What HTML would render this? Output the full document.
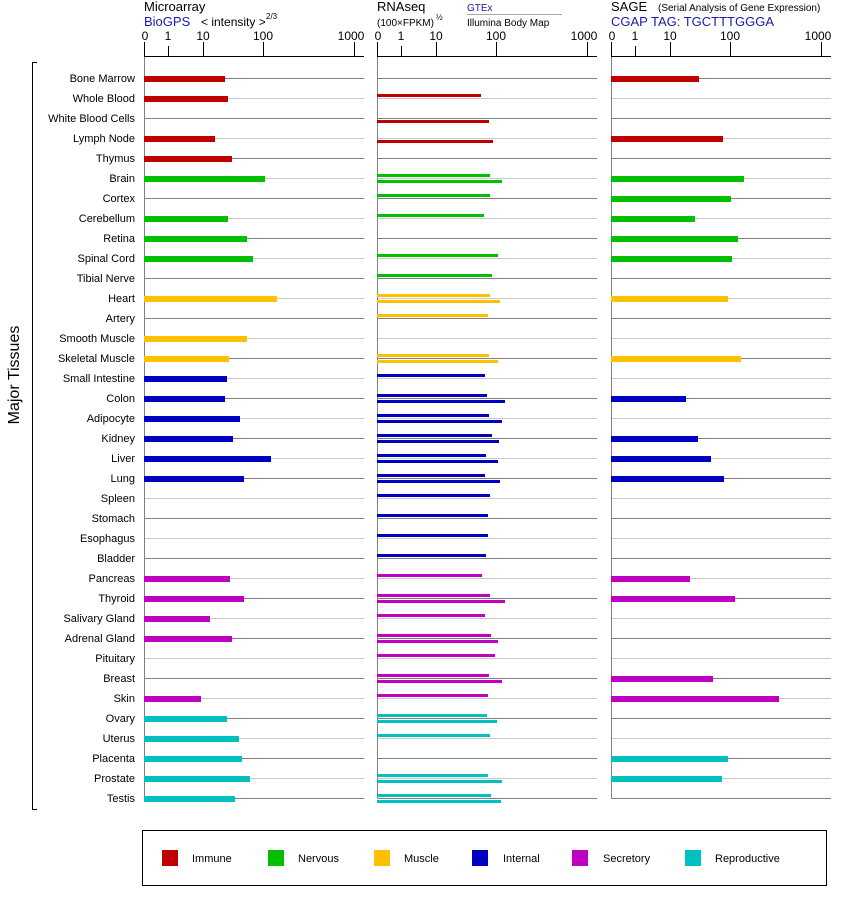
<!DOCTYPE html>
<html><head><meta charset="utf-8"><style>
body{margin:0;background:#fff;}
svg{display:block;font-family:"Liberation Sans",sans-serif;}
</style></head><body>
<svg id="s" width="842" height="900" xmlns="http://www.w3.org/2000/svg">
<g font-size="13" fill="#000">
<text x="144" y="11">Microarray</text>
<text x="144" y="26" fill="#1a1aaa">BioGPS</text>
<text x="201" y="26" font-size="12">&lt; intensity &gt;</text>
<text x="266" y="19" font-size="8">2/3</text>
<text x="377" y="11">RNAseq</text>
<text x="377" y="26" font-size="10">(100×FPKM)</text>
<text x="436" y="20" font-size="8">½</text>
<text x="467" y="11" font-size="10" fill="#1a1aaa">GTEx</text>
<text x="467" y="26" font-size="10">Illumina Body Map</text>
<text x="611" y="11">SAGE</text>
<text x="658" y="11" font-size="10">(Serial Analysis of Gene Expression)</text>
<text x="611" y="26" fill="#1a1aaa">CGAP TAG: TGCTTTGGGA</text>
</g>
<g font-size="12" text-anchor="middle" fill="#000">
<text x="145" y="40">0</text><text x="168" y="40">1</text><text x="203" y="40">10</text><text x="263" y="40">100</text><text x="351" y="40">1000</text>
<text x="378" y="40">0</text><text x="401" y="40">1</text><text x="436" y="40">10</text><text x="496" y="40">100</text><text x="584" y="40">1000</text>
<text x="612" y="40">0</text><text x="635" y="40">1</text><text x="670" y="40">10</text><text x="730" y="40">100</text><text x="818" y="40">1000</text>
</g>
<line x1="467" y1="14.5" x2="562" y2="14.5" stroke="#aaa"/>
<g font-size="11" text-anchor="end" fill="#000">
<text x="135" y="82">Bone Marrow</text><text x="135" y="102">Whole Blood</text><text x="135" y="122">White Blood Cells</text><text x="135" y="142">Lymph Node</text><text x="135" y="162">Thymus</text><text x="135" y="182">Brain</text><text x="135" y="202">Cortex</text><text x="135" y="222">Cerebellum</text><text x="135" y="242">Retina</text><text x="135" y="262">Spinal Cord</text><text x="135" y="282">Tibial Nerve</text><text x="135" y="302">Heart</text><text x="135" y="322">Artery</text><text x="135" y="342">Smooth Muscle</text><text x="135" y="362">Skeletal Muscle</text><text x="135" y="382">Small Intestine</text><text x="135" y="402">Colon</text><text x="135" y="422">Adipocyte</text><text x="135" y="442">Kidney</text><text x="135" y="462">Liver</text><text x="135" y="482">Lung</text><text x="135" y="502">Spleen</text><text x="135" y="522">Stomach</text><text x="135" y="542">Esophagus</text><text x="135" y="562">Bladder</text><text x="135" y="582">Pancreas</text><text x="135" y="602">Thyroid</text><text x="135" y="622">Salivary Gland</text><text x="135" y="642">Adrenal Gland</text><text x="135" y="662">Pituitary</text><text x="135" y="682">Breast</text><text x="135" y="702">Skin</text><text x="135" y="722">Ovary</text><text x="135" y="742">Uterus</text><text x="135" y="762">Placenta</text><text x="135" y="782">Prostate</text><text x="135" y="802">Testis</text>
</g>
<text x="19" y="375" font-size="16" text-anchor="middle" transform="rotate(-90 19 375)">Major Tissues</text>
<path d="M37 62.5H32.5V809.5H37" fill="none" stroke="#000"/>
<rect x="142.5" y="830.5" width="684" height="55" fill="none" stroke="#000"/>
<g font-size="11" fill="#000">
<rect x="162" y="850" width="16" height="16" fill="#c00000"/><text x="192" y="862">Immune</text>
<rect x="268" y="850" width="16" height="16" fill="#00c000"/><text x="298" y="862">Nervous</text>
<rect x="374" y="850" width="16" height="16" fill="#ffc000"/><text x="404" y="862">Muscle</text>
<rect x="472" y="850" width="16" height="16" fill="#0000c0"/><text x="503" y="862">Internal</text>
<rect x="572" y="850" width="16" height="16" fill="#c000c0"/><text x="603" y="862">Secretory</text>
<rect x="685" y="850" width="16" height="16" fill="#00c0c0"/><text x="715" y="862">Reproductive</text>
</g>
<g id="g"></g>
</svg>
<script>
var g=document.getElementById('g'),h='';
function L(x1,y1,x2,y2,c,w){h+='<line x1="'+x1+'" y1="'+y1+'" x2="'+x2+'" y2="'+y2+'" stroke="'+c+'" stroke-width="'+(w||1)+'"/>';}
function R(x,y,w,hh,c){h+='<rect x="'+x+'" y="'+y+'" width="'+w+'" height="'+hh+'" fill="'+c+'"/>';}
var P=[144,377,611],T=[0,24,59,119,210];
P.forEach(function(p){
 L(p,56.5,p+220,56.5,'#000');
 T.forEach(function(t,k){L(p+t+0.5,k==1?46:42,p+t+0.5,57,'#000');});
 for(var i=0;i<37;i++){var y=78+20*i+0.5;L(p,y,p+220,y,i%2?'#c8c8c8':'#808080');}
 L(p+0.5,57,p+0.5,798,'#808080');
});
var C=['#c00000','#00c000','#ffc000','#0000c0','#c000c0','#00c0c0'];
var cat=[0,0,0,0,0,1,1,1,1,1,1,2,2,2,2,3,3,3,3,3,3,3,3,3,3,4,4,4,4,4,4,4,5,5,5,5,5];
var M=[225,228,0,215,232,265,0,228,247,253,0,277,0,247,229,227,225,240,233,271,244,0,0,0,0,230,244,210,232,0,0,201,227,239,242,250,235];
var G=[0,481,0,0,0,490,490,484,0,498,492,490,488,0,489,485,487,489,492,486,485,490,488,488,486,482,490,485,491,495,489,488,487,490,0,488,491];
var I=[0,0,489,493,0,502,0,0,0,0,0,500,0,0,498,0,505,502,499,498,500,0,0,0,0,0,505,0,498,0,502,0,497,0,0,502,501];
var S=[699,0,0,723,0,744,731,695,738,732,0,728,0,0,741,0,686,0,698,711,724,0,0,0,0,690,735,0,0,0,713,779,0,0,728,722,0];
for(var i=0;i<37;i++){var y=78+20*i,c=C[cat[i]];
 if(M[i])R(144,y-2,M[i]-144,6,c);
 if(G[i])R(377,y-4,G[i]-377,3,c);
 if(I[i])R(377,y+2,I[i]-377,3,c);
 if(S[i])R(611,y-2,S[i]-611,6,c);
}
g.innerHTML=h;
</script>
</body></html>
